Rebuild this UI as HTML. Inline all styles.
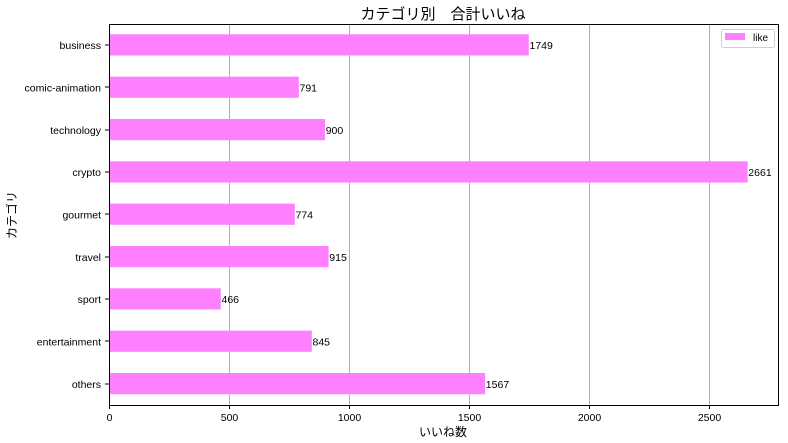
<!DOCTYPE html>
<html><head><meta charset="utf-8"><style>body{margin:0;background:#fff}svg{display:block}text{font-family:"Liberation Sans","Noto Sans CJK JP",sans-serif;fill:#000}</style></head><body>
<svg width="788" height="443" viewBox="0 0 788 443" xmlns="http://www.w3.org/2000/svg">
<rect width="788" height="443" fill="#fff"/>
<g stroke="#b0b0b0" stroke-width="1">
<line x1="229.5" y1="24" x2="229.5" y2="405"/>
<line x1="349.5" y1="24" x2="349.5" y2="405"/>
<line x1="469.5" y1="24" x2="469.5" y2="405"/>
<line x1="589.5" y1="24" x2="589.5" y2="405"/>
<line x1="709.5" y1="24" x2="709.5" y2="405"/>
</g>
<g fill="#ff80ff">
<rect x="109" y="34.3" width="419.8" height="21.2"/>
<rect x="109" y="76.6" width="189.8" height="21.2"/>
<rect x="109" y="119" width="216" height="21.2"/>
<rect x="109" y="161.3" width="638.6" height="21.2"/>
<rect x="109" y="203.6" width="185.8" height="21.2"/>
<rect x="109" y="246" width="219.6" height="21.2"/>
<rect x="109" y="288.3" width="111.8" height="21.2"/>
<rect x="109" y="330.6" width="202.8" height="21.2"/>
<rect x="109" y="373" width="376.1" height="21.2"/>
</g>
<g font-size="10.5">
<text x="529.5" y="49">1749</text>
<text x="299.5" y="91.5">791</text>
<text x="325.7" y="134">900</text>
<text x="748.3" y="176">2661</text>
<text x="295.5" y="218.5">774</text>
<text x="329.3" y="261">915</text>
<text x="221.5" y="303">466</text>
<text x="312.5" y="345.5">845</text>
<text x="485.8" y="388">1567</text>
</g>
<rect x="109.5" y="24.5" width="669" height="381" fill="none" stroke="#000" stroke-width="1"/>
<g stroke="#000" stroke-width="1">
<line x1="109.5" y1="405" x2="109.5" y2="409"/><line x1="229.5" y1="405" x2="229.5" y2="409"/><line x1="349.5" y1="405" x2="349.5" y2="409"/><line x1="469.5" y1="405" x2="469.5" y2="409"/><line x1="589.5" y1="405" x2="589.5" y2="409"/><line x1="709.5" y1="405" x2="709.5" y2="409"/>
<line x1="105" y1="45" x2="109" y2="45"/><line x1="105" y1="87" x2="109" y2="87"/><line x1="105" y1="130" x2="109" y2="130"/><line x1="105" y1="172" x2="109" y2="172"/><line x1="105" y1="214" x2="109" y2="214"/><line x1="105" y1="257" x2="109" y2="257"/><line x1="105" y1="299" x2="109" y2="299"/><line x1="105" y1="341" x2="109" y2="341"/><line x1="105" y1="384" x2="109" y2="384"/>
</g>
<g font-size="10.5" text-anchor="middle">
<text x="109.5" y="421">0</text><text x="229.5" y="421">500</text><text x="349.5" y="421">1000</text><text x="469.5" y="421">1500</text><text x="589.5" y="421">2000</text><text x="709.5" y="421">2500</text>
</g>
<g font-size="10.5" text-anchor="end">
<text x="101" y="49">business</text>
<text x="101" y="91.5">comic-animation</text>
<text x="101" y="134">technology</text>
<text x="101" y="176">crypto</text>
<text x="101" y="218.5">gourmet</text>
<text x="101" y="261">travel</text>
<text x="101" y="303">sport</text>
<text x="101" y="345.5">entertainment</text>
<text x="101" y="388">others</text>
</g>
<text x="443" y="436" font-size="12" text-anchor="middle">いいね数</text>
<text transform="translate(16,215) rotate(-90)" font-size="12" text-anchor="middle">カテゴリ</text>
<text x="443" y="19" font-size="15" text-anchor="middle">カテゴリ別　合計いいね</text>
<rect x="721.5" y="29.5" width="53" height="18" rx="2" fill="#fff" stroke="#d0d0d0"/>
<rect x="725" y="33" width="20" height="7" fill="#ff80ff"/>
<text x="753" y="41" font-size="10">like</text>
</svg>
</body></html>
